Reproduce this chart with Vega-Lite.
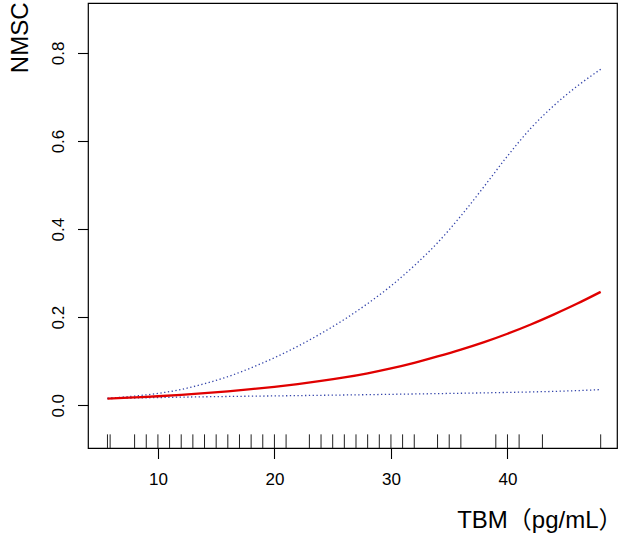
{
  "$schema": "https://vega.github.io/schema/vega-lite/v6.json",
  "autosize": {"type": "none"},
  "width": 529,
  "height": 445,
  "padding": {"left": 88, "top": 3, "right": 7, "bottom": 86},
  "background": "white",
  "config": {
    "view": {"stroke": "black", "strokeWidth": 1.2},
    "font": "Liberation Sans",
    "axis": {
      "grid": false,
      "domain": false,
      "tickColor": "black",
      "tickWidth": 1.1,
      "tickSize": 10.5,
      "labelColor": "black",
      "labelFont": "Liberation Sans",
      "labelFontSize": 17,
      "titleFont": "Liberation Sans, Noto Sans CJK SC",
      "titleFontSize": 24,
      "titleFontWeight": "normal",
      "titleColor": "black"
    }
  },
  "datasets": {
    "curve": [
      {"x": 5.67, "est": 0.0152, "lower": 0.0152, "upper": 0.0160},
      {"x": 8, "est": 0.018, "lower": 0.0165, "upper": 0.021},
      {"x": 10, "est": 0.0205, "lower": 0.0175, "upper": 0.027},
      {"x": 12, "est": 0.0238, "lower": 0.0185, "upper": 0.036},
      {"x": 14, "est": 0.0275, "lower": 0.0193, "upper": 0.049},
      {"x": 16, "est": 0.0318, "lower": 0.0200, "upper": 0.065},
      {"x": 18, "est": 0.0366, "lower": 0.0207, "upper": 0.085},
      {"x": 20, "est": 0.042, "lower": 0.0213, "upper": 0.108},
      {"x": 22, "est": 0.0482, "lower": 0.0220, "upper": 0.134},
      {"x": 24, "est": 0.0552, "lower": 0.0227, "upper": 0.163},
      {"x": 26, "est": 0.0633, "lower": 0.0234, "upper": 0.195},
      {"x": 28, "est": 0.0727, "lower": 0.0241, "upper": 0.231},
      {"x": 30, "est": 0.0838, "lower": 0.0249, "upper": 0.271},
      {"x": 32, "est": 0.0965, "lower": 0.0257, "upper": 0.317},
      {"x": 34, "est": 0.111, "lower": 0.0265, "upper": 0.369},
      {"x": 36, "est": 0.1265, "lower": 0.0273, "upper": 0.430},
      {"x": 38, "est": 0.1435, "lower": 0.0282, "upper": 0.497},
      {"x": 40, "est": 0.1625, "lower": 0.0292, "upper": 0.566},
      {"x": 42, "est": 0.1835, "lower": 0.0303, "upper": 0.629},
      {"x": 44, "est": 0.2065, "lower": 0.0316, "upper": 0.681},
      {"x": 46, "est": 0.231, "lower": 0.0333, "upper": 0.725},
      {"x": 48, "est": 0.2575, "lower": 0.0356, "upper": 0.763}
    ],
    "rug": [
      {"x": 5.67}, {"x": 5.9}, {"x": 8}, {"x": 9}, {"x": 10}, {"x": 11}, {"x": 12},
      {"x": 13}, {"x": 14}, {"x": 15}, {"x": 16}, {"x": 17}, {"x": 18}, {"x": 19},
      {"x": 20}, {"x": 21}, {"x": 23}, {"x": 24}, {"x": 25}, {"x": 26}, {"x": 27},
      {"x": 28}, {"x": 29}, {"x": 30}, {"x": 31}, {"x": 32}, {"x": 34}, {"x": 35},
      {"x": 36}, {"x": 39}, {"x": 40}, {"x": 41}, {"x": 43}, {"x": 48}
    ]
  },
  "layer": [
    {
      "data": {"name": "rug"},
      "mark": {"type": "rule", "color": "#222222", "strokeWidth": 1},
      "encoding": {
        "x": {"field": "x", "type": "quantitative"},
        "y": {"datum": -0.097, "type": "quantitative"},
        "y2": {"datum": -0.066}
      }
    },
    {
      "data": {"name": "curve"},
      "mark": {"type": "line", "color": "#3344aa", "strokeWidth": 1.3, "strokeDash": [1.3, 2.5], "interpolate": "monotone"},
      "encoding": {
        "x": {"field": "x", "type": "quantitative"},
        "y": {"field": "upper", "type": "quantitative"}
      }
    },
    {
      "data": {"name": "curve"},
      "mark": {"type": "line", "color": "#3344aa", "strokeWidth": 1.3, "strokeDash": [1.3, 2.5], "interpolate": "monotone"},
      "encoding": {
        "x": {"field": "x", "type": "quantitative"},
        "y": {"field": "lower", "type": "quantitative"}
      }
    },
    {
      "data": {"name": "curve"},
      "mark": {"type": "line", "color": "#e00000", "strokeWidth": 2.3, "interpolate": "monotone"},
      "encoding": {
        "x": {
          "field": "x",
          "type": "quantitative",
          "scale": {"domain": [4.0, 49.4], "nice": false, "zero": false},
          "axis": {
            "values": [10, 20, 30, 40],
            "title": "TBM（pg/mL）",
            "titleAnchor": "end",
            "titleAlign": "right",
            "titleBaseline": "alphabetic",
            "titleX": 534,
            "titleY": 79,
            "labelPadding": 13,
            "labelBaseline": "top"
          }
        },
        "y": {
          "field": "est",
          "type": "quantitative",
          "scale": {"domain": [-0.097, 0.9135], "nice": false, "zero": false},
          "axis": {
            "values": [0, 0.2, 0.4, 0.6, 0.8],
            "format": ".1f",
            "title": "NMSC",
            "titleAngle": -90,
            "titleAlign": "right",
            "titleBaseline": "alphabetic",
            "titleX": -61,
            "titleY": -1,
            "labelAngle": -90,
            "labelAlign": "center",
            "labelBaseline": "alphabetic",
            "labelPadding": 14
          }
        }
      }
    }
  ]
}
